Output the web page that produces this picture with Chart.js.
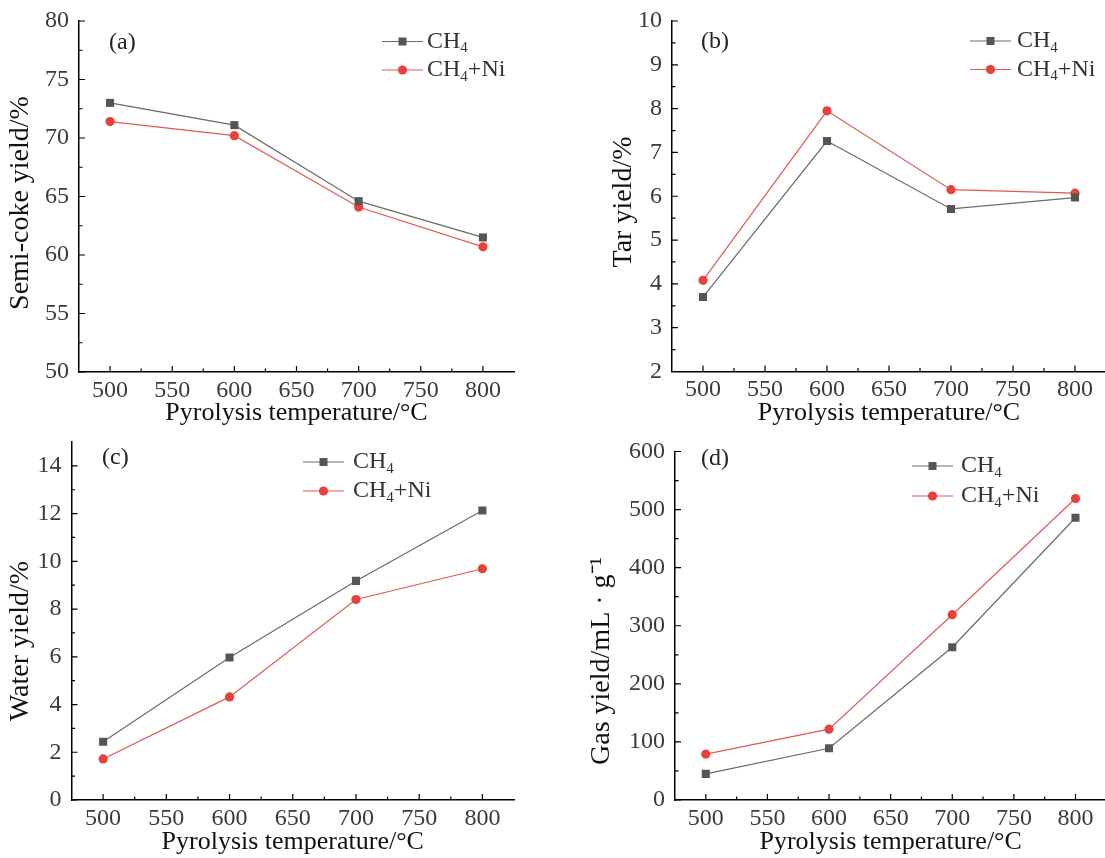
<!DOCTYPE html>
<html>
<head>
<meta charset="utf-8">
<script src="https://cdn.jsdelivr.net/npm/chart.js@4.4.0/dist/chart.umd.min.js"></script>
<style>
  body { margin: 0; background: #fff; width: 1105px; height: 858px; position: relative; overflow: hidden; }
  canvas { position: absolute; }
</style>
</head>
<body>
<canvas id="chartA" width="552" height="429" style="left:0;top:0"></canvas>
<canvas id="chartB" width="560" height="429" style="left:552px;top:0"></canvas>
<canvas id="chartC" width="552" height="429" style="left:0;top:429px"></canvas>
<canvas id="chartD" width="560" height="429" style="left:552px;top:429px"></canvas>
<script>
// temperatures (°C)
const temperatures = [500, 600, 700, 800];
const xTicks = [500, 550, 600, 650, 700, 750, 800];
const seriesNames = ['CH4', 'CH4+Ni'];

// (a) semi-coke yield, %
const semiCokeCH4 = [73.0, 71.1, 64.6, 61.5];
const semiCokeNi = [71.4, 70.2, 64.1, 60.7];
const semiCokeTicks = [50, 55, 60, 65, 70, 75, 80];

// (b) tar yield, %
const tarCH4 = [3.70, 7.26, 5.71, 5.97];
const tarNi = [4.08, 7.95, 6.15, 6.07];
const tarTicks = [2, 3, 4, 5, 6, 7, 8, 9, 10];

// (c) water yield, %
const waterCH4 = [2.44, 5.97, 9.18, 12.13];
const waterNi = [1.72, 4.32, 8.40, 9.69];
const waterTicks = [0, 2, 4, 6, 8, 10, 12, 14];

// (d) gas yield, mL/g
const gasCH4 = [45, 89, 263, 486];
const gasNi = [79, 122, 319, 519];
const gasTicks = [0, 100, 200, 300, 400, 500, 600];

const SERIF = '"Liberation Serif", "Times New Roman", serif';
const GRAY = '#555555';
const RED = '#e8403a';

// petites graduations dirigées vers l'intérieur
const innerTicks = {
    id: 'innerTicks',
    afterDraw(chart, args, opts) {
        const ctx = chart.ctx;
        const x = chart.scales.x, y = chart.scales.y;
        const area = chart.chartArea;
        ctx.save();
        ctx.strokeStyle = '#000';
        ctx.lineWidth = 1.2;
        ctx.beginPath();
        opts.xTicks.forEach((v, i) => {
            const px = x.getPixelForValue(v);
            ctx.moveTo(px, area.bottom); ctx.lineTo(px, area.bottom - 6);
            if (i < opts.xTicks.length - 1) {
                const mx = x.getPixelForValue((v + opts.xTicks[i + 1]) / 2);
                ctx.moveTo(mx, area.bottom); ctx.lineTo(mx, area.bottom - 3.5);
            }
        });
        opts.yTicks.forEach((v, i) => {
            const py = y.getPixelForValue(v);
            ctx.moveTo(area.left, py); ctx.lineTo(area.left + 6, py);
            if (i < opts.yTicks.length - 1) {
                const my = y.getPixelForValue((v + opts.yTicks[i + 1]) / 2);
                ctx.moveTo(area.left, my); ctx.lineTo(area.left + 3.5, my);
            }
        });
        ctx.stroke();
        ctx.restore();
    }
};

// légende avec indice (CH4), étiquette du panneau et titre vertical
const panelLegend = {
    id: 'panelLegend',
    afterDraw(chart, args, opts) {
        const ctx = chart.ctx;
        ctx.save();
        ctx.textBaseline = 'middle';
        ctx.fillStyle = '#222';
        ctx.font = '24px ' + SERIF;
        ctx.fillText(opts.label, opts.labelX, opts.labelY);

        // titre de l'axe y
        ctx.save();
        ctx.translate(opts.titleX, opts.titleY);
        ctx.rotate(-Math.PI / 2);
        ctx.textAlign = 'center';
        ctx.fillStyle = '#111';
        ctx.font = '28px ' + SERIF;
        ctx.fillText(opts.yTitle, 0, 0);
        ctx.restore();

        chart.data.datasets.forEach((ds, i) => {
            const ly = opts.y + i * opts.rowGap;
            ctx.strokeStyle = ds.borderColor;
            ctx.lineWidth = 1.2;
            ctx.beginPath();
            ctx.moveTo(opts.x, ly); ctx.lineTo(opts.x + 41, ly);
            ctx.stroke();
            ctx.fillStyle = ds.pointBackgroundColor;
            if (ds.pointStyle === 'rect') {
                ctx.fillRect(opts.x + 16.5, ly - 4, 8, 8);
            } else {
                ctx.beginPath();
                ctx.arc(opts.x + 20.5, ly, 4.6, 0, Math.PI * 2);
                ctx.fill();
            }
            // texte : CH + indice 4 + reste
            const name = ds.label;
            let tx = opts.textX;
            ctx.fillStyle = '#333';
            ctx.font = '24px ' + SERIF;
            ctx.fillText('CH', tx, ly);
            tx += ctx.measureText('CH').width;
            ctx.font = '15px ' + SERIF;
            ctx.fillText('4', tx, ly + 7);
            tx += ctx.measureText('4').width;
            ctx.font = '24px ' + SERIF;
            ctx.fillText(name.slice(3), tx, ly);
        });
        ctx.restore();
    }
};

function makePanel(id, cfg) {
    const tickFont = { family: SERIF, size: 24 };
    return new Chart(document.getElementById(id), {
        type: 'line',
        data: {
            datasets: [{
                label: seriesNames[0],
                data: temperatures.map((t, i) => ({ x: t, y: cfg.ch4[i] })),
                borderColor: '#6a6a6a',
                borderWidth: 1.2,
                pointStyle: 'rect',
                pointRadius: 5.7,
                pointBackgroundColor: GRAY,
                pointBorderColor: GRAY,
                pointBorderWidth: 0,
                tension: 0
            }, {
                label: seriesNames[1],
                data: temperatures.map((t, i) => ({ x: t, y: cfg.ni[i] })),
                borderColor: '#e25a55',
                borderWidth: 1.2,
                pointStyle: 'circle',
                pointRadius: 4.6,
                pointBackgroundColor: RED,
                pointBorderColor: RED,
                pointBorderWidth: 0,
                tension: 0
            }]
        },
        options: {
            responsive: false,
            animation: false,
            events: [],
            layout: { padding: { left: cfg.padLeft, top: cfg.padTop, right: cfg.padRight, bottom: 0 } },
            plugins: {
                legend: { display: false },
                tooltip: { enabled: false },
                innerTicks: { xTicks: xTicks, yTicks: cfg.yTicks },
                panelLegend: cfg.legend
            },
            scales: {
                x: {
                    type: 'linear',
                    min: 475, max: 825,
                    afterBuildTicks: s => { s.ticks = xTicks.map(v => ({ value: v })); },
                    afterFit: s => { s.height = cfg.xHeight; s.paddingLeft = 0; s.paddingRight = 0; },
                    grid: { display: true, drawOnChartArea: false, drawTicks: false },
                    border: { display: true, color: '#000', width: 1.5 },
                    ticks: { font: tickFont, color: '#3a3a3a', padding: 4, maxRotation: 0 },
                    title: { display: true, text: 'Pyrolysis temperature/°C', color: '#111',
                             font: { family: SERIF, size: 26 }, padding: { top: 0, bottom: 0 } }
                },
                y: {
                    min: cfg.yMin, max: cfg.yMax,
                    afterBuildTicks: s => { s.ticks = cfg.yTicks.map(v => ({ value: v })); },
                    afterFit: s => { s.width = cfg.yWidth; s.paddingTop = 0; s.paddingBottom = 0; },
                    grid: { display: true, drawOnChartArea: false, drawTicks: false },
                    border: { display: true, color: '#000', width: 1.5 },
                    ticks: { font: tickFont, color: '#3a3a3a', padding: 10 },
                    title: { display: false }
                }
            }
        },
        plugins: [innerTicks, panelLegend]
    });
}

makePanel('chartA', {
    ch4: semiCokeCH4, ni: semiCokeNi, yTicks: semiCokeTicks, yMin: 50, yMax: 80,
    padLeft: 0, padTop: 21, padRight: 38, yWidth: 79, xHeight: 57,
    legend: { label: '(a)', labelX: 109, labelY: 43, x: 382, y: 41.5, rowGap: 28.5, textX: 427,
              yTitle: 'Semi-coke yield/%', titleX: 21, titleY: 203 }
});

makePanel('chartB', {
    ch4: tarCH4, ni: tarNi, yTicks: tarTicks, yMin: 2, yMax: 10,
    padLeft: 0, padTop: 21, padRight: 6, yWidth: 120, xHeight: 57.5,
    legend: { label: '(b)', labelX: 149, labelY: 42, x: 418, y: 41, rowGap: 28.5, textX: 465,
              yTitle: 'Tar yield/%', titleX: 72, titleY: 202 }
});

makePanel('chartC', {
    ch4: waterCH4, ni: waterNi, yTicks: waterTicks, yMin: 0, yMax: 15,
    padLeft: 0, padTop: 13, padRight: 38, yWidth: 71.5, xHeight: 58,
    legend: { label: '(c)', labelX: 102, labelY: 29, x: 303, y: 33, rowGap: 29, textX: 353,
              yTitle: 'Water yield/%', titleX: 21, titleY: 212 }
});

makePanel('chartD', {
    ch4: gasCH4, ni: gasNi, yTicks: gasTicks, yMin: 0, yMax: 600,
    padLeft: 0, padTop: 22.5, padRight: 2.5, yWidth: 123, xHeight: 58,
    legend: { label: '(d)', labelX: 149, labelY: 30, x: 360, y: 37, rowGap: 30, textX: 409,
              yTitle: 'Gas yield/mL · g⁻¹', titleX: 50, titleY: 232 }
});
</script>
</body>
</html>
